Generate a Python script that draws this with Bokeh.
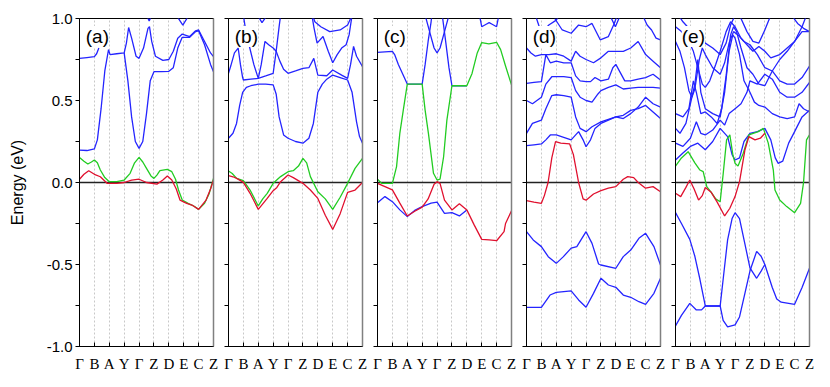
from bokeh.plotting import figure
from bokeh.layouts import row
from bokeh.models import Range1d, FixedTicker, LinearAxis, Span, Label
from bokeh.embed import file_html
from bokeh.resources import INLINE

# ---------------- data ----------------
K_POINTS = [0, 1, 2, 3, 4, 5, 6, 7, 8, 9]
K_LABELS = ["Γ", "B", "A", "Y", "Γ", "Z", "D", "E", "C", "Z"]
Y_MAJOR = [-1.0, -0.5, 0.0, 0.5, 1.0]
Y_MINOR = [-0.75, -0.25, 0.25, 0.75]
Y_LABELS = ["-1.0", "-0.5", "0.0", "0.5", "1.0"]
PANEL_NAMES = ["(a)", "(b)", "(c)", "(d)", "(e)"]

# panel (a)
A_BLUE = [
    [(0, .198), (.5, .195), (1, .205), (1.2, .26), (1.45, .45), (1.7, .68), (1.95, .81), (2.05, .78), (2.5, .785),
     (3, .79), (3.15, .85), (3.3, .945), (3.5, .88), (3.8, .77), (4, .757), (4.3, .82), (4.6, .94), (4.7, .95),
     (4.85, .86), (5.1, .77), (5.6, .745), (6, .75), (6.3, .80), (6.6, .88), (6.9, .905), (7.4, .89), (7.8, .925),
     (8, .93), (8.4, .86), (8.8, .79), (9, .767)],
    [(0, .757), (.5, .762), (1, .767), (1.15, .785), (1.3, .82)],
    [(3, .79), (3.25, .62), (3.5, .40), (3.75, .25), (4, .208), (4.25, .25), (4.5, .42), (4.75, .62), (5, .676),
     (5.5, .676), (6, .678), (6.3, .70), (6.6, .82), (6.9, .885), (7.4, .885), (7.8, .92), (8, .925), (8.4, .84),
     (8.8, .72), (9, .676)],
    [(4.5, 1.02), (4.68, .985), (4.85, 1.02)],
    [(6.5, 1.02), (6.94, .96), (7.35, 1.02)],
]
A_GREEN = [
    [(0, .153), (.3, .13), (.56, .113), (.8, .125), (1, .137), (1.2, .12), (1.4, .076), (1.7, .03), (2, .005),
     (2.5, .005), (3, .015), (3.4, .056), (3.7, .12), (4, .153), (4.25, .125), (4.5, .086), (4.8, .04), (5, .025),
     (5.2, .045), (5.4, .072), (5.9, .08), (6.2, .066), (6.45, .02), (6.65, -.046), (6.9, -.107), (7.3, -.127),
     (7.7, -.145), (8, -.164), (8.4, -.127), (8.7, -.07), (9, .025)],
]
A_RED = [
    [(0, .02), (.3, .05), (.62, .072), (1, .05), (1.4, .035), (1.85, -.005), (2.5, -.005), (3, 0), (3.5, .015),
     (4, .02), (4.5, 0), (5.2, -.01), (5.6, .015), (5.9, .04), (6.2, .015), (6.5, -.04), (6.75, -.107),
     (7.2, -.127), (7.6, -.14), (8, -.164), (8.5, -.107), (8.8, -.04), (9, .015)],
]

# panel (b)
B_BLUE = [
    [(0, .27), (.3, .30), (.54, .36), (.75, .47), (.95, .55), (1.2, .58), (1.5, .59), (2, .60), (2.5, .60),
     (3, .595), (3.2, .54), (3.4, .40), (3.7, .29), (4, .27), (4.5, .25), (5, .24), (5.4, .27), (5.7, .36),
     (6, .55), (6.3, .60), (6.6, .63), (7, .655), (7.5, .64), (8, .625), (8.3, .55), (8.6, .37), (8.8, .28),
     (9, .24)],
    [(0, .666), (.15, .71), (.4, .79), (.65, .82), (.8, .72), (.95, .64), (1, .625), (1.5, .63), (2, .635),
     (2.5, .65), (3, .666), (3.2, .80), (3.4, .95), (3.5, 1.02)],
    [(1.0, 1.02), (1.2, .90), (1.43, .82), (1.7, .72), (2, .635), (2.2, .72), (2.45, .86), (2.7, .84), (3, .82),
     (3.2, .80), (3.45, .74), (3.7, .69), (4, .666), (4.5, .68), (5, .696), (5.4, .70), (5.73, .757), (6, .655),
     (6.6, .651), (7, .686), (7.6, .655), (8, .635), (8.2, .72), (8.4, .83), (8.6, .77), (9, .706)],
    [(5.6, 1.02), (5.75, .94), (5.95, .85), (6.35, .89), (6.7, .80), (7, .73), (7.3, .78), (7.6, .82), (7.9, .84),
     (8.1, .90), (8.3, 1.02)],
    [(5.65, 1.02), (5.8, .98), (6.2, .95), (6.8, .92), (7.5, .93), (8, .96), (8.3, 1.02)],
    [(1.95, 1.02), (2.25, .975), (2.6, 1.02)],
]
B_GREEN = [
    [(0, .07), (.25, .055), (.55, .025), (1, .011), (1.45, -.046), (2, -.143), (2.3, -.10), (2.6, -.066),
     (3, -.005), (3.5, .036), (4, .066), (4.35, .072), (4.7, .10), (5, .147), (5.25, .12), (5.5, .036),
     (6, -.056), (6.5, -.10), (7, -.164), (7.5, -.09), (8, -.005), (8.5, .086), (9, .147)],
]
B_RED = [
    [(0, .042), (.3, .035), (.55, .025), (1, .001), (1.45, -.066), (2, -.164), (2.3, -.13), (2.6, -.097),
     (3, -.05), (3.25, -.03), (3.5, .005), (4, .046), (4.35, .03), (5, -.005), (5.5, -.046), (6, -.097),
     (6.5, -.2), (7, -.286), (7.5, -.19), (8, -.06), (8.5, -.046), (9, 0)],
]

# panel (c)
C_BLUE = [
    [(0, .794), (.5, .797), (1, .80), (1.15, .78), (1.4, .72), (1.7, .66), (2, .60), (2.5, .60), (3, .60),
     (3.2, .72), (3.4, .86), (3.6, .98), (3.65, 1.02)],
    [(3.2, 1.02), (3.5, .92), (3.8, .82), (4, .79), (4.2, .82), (4.5, .92), (4.8, 1.02)],
    [(4.35, 1.02), (4.55, .88), (4.8, .70), (5, .59), (5.5, .59), (6, .59)],
    [(6.85, 1.02), (7, .95), (7.3, .965), (7.5, .975), (7.7, .965), (8, .95), (8.15, 1.02)],
    [(0, -.123), (.5, -.086), (1, -.117), (1.5, -.167), (2, -.208), (2.5, -.17), (3, -.147), (3.6, -.126),
     (4, -.12), (4.5, -.188), (5, -.184), (5.5, -.204), (6, -.167)],
]
C_GREEN = [
    [(0, .02), (.27, -.005), (1, -.005), (1.28, .097), (1.5, .30), (1.73, .44), (2, .60), (3, .60), (3.2, .44),
     (3.42, .30), (3.76, .056), (4, .015), (4.2, .02), (4.44, .157), (4.66, .38), (5, .59), (6, .59),
     (6.35, .665), (6.7, .79), (7, .853), (7.48, .845), (8, .855), (8.27, .81), (8.6, .71), (9, .595)],
]
C_RED = [
    [(0, -.005), (.5, -.025), (1, -.045), (1.5, -.126), (2, -.204), (2.5, -.175), (3, -.15), (3.4, -.10),
     (3.8, -.01), (4, .005), (4.2, -.005), (4.5, -.107), (5, -.167), (5.5, -.13), (6, -.167), (6.5, -.26),
     (7, -.347), (7.5, -.35), (8, -.355), (8.5, -.30), (8.6, -.25), (9, -.172)],
]

# panel (d)
D_BLUE = [
    [(0, .225), (.5, .23), (1, .235), (1.3, .26), (1.6, .29), (2, .29), (2.5, .275), (3, .26), (3.5, .31),
     (3.8, .26), (4, .218), (4.3, .26), (4.6, .33), (5, .36), (5.5, .38), (6, .40), (6.5, .41), (7, .44),
     (7.5, .45), (8, .47), (8.5, .43), (9, .39)],
    [(0, .30), (.4, .36), (1, .38), (1.3, .45), (1.7, .53), (2, .535), (2.5, .53), (3, .52), (3.3, .40),
     (3.6, .33), (4, .31), (4.4, .34), (5, .37), (5.5, .385), (6, .40), (6.5, .39), (7, .42), (7.5, .46),
     (8, .52), (8.5, .48), (9, .46)],
    [(0, .50), (.4, .48), (1, .52), (1.3, .60), (1.7, .645), (2, .645), (2.5, .645), (3, .64), (3.3, .56),
     (3.6, .52), (4, .50), (4.4, .49), (4.8, .54), (5, .56), (5.5, .58), (6, .595), (6.5, .57), (7, .575),
     (7.5, .58), (8, .58), (8.5, .58), (9, .575)],
    [(0, .605), (.5, .61), (1, .615), (1.3, .78), (1.6, .73), (2, .74), (2.5, .73), (3, .73), (3.3, .65),
     (3.6, .62), (4, .615), (4.3, .615), (4.6, .64), (5, .62), (5.5, .63), (5.8, .70), (6, .72), (6.3, .67),
     (6.6, .62), (7, .62), (7.5, .63), (8, .64), (8.5, .66), (9, .625)],
    [(0, .82), (.3, .79), (.6, .77), (1, .78), (1.5, .78), (2, .785), (2.5, .77), (3, .74), (3.3, .80),
     (3.6, .77), (4, .75), (4.5, .73), (5, .76), (5.5, .80), (6, .80), (6.5, .80), (7, .82), (7.5, .86),
     (8, .78), (8.5, .74), (9, .70)],
    [(.6, 1.02), (1, .91), (1.5, .96), (2, .99), (2.2, 1.02)],
    [(1.9, 1.0), (2.4, .93), (3, .91), (3.5, .96), (4, .95), (4.4, .97), (4.95, .87), (5.5, .89), (5.85, .96),
     (6.1, 1.02)],
    [(5.6, 1.02), (5.97, .95), (6.3, 1.02)],
    [(7.8, 1.02), (8.1, .96), (8.4, .93), (8.7, .88), (9, .87)],
    [(0, -.30), (.45, -.35), (1, -.391), (1.46, -.452), (2, -.493), (2.48, -.452), (3, -.40), (3.38, -.391),
     (4, -.30), (4.4, -.371), (4.84, -.497), (5, -.503), (6, -.523), (6.5, -.452), (7, -.412), (7.55, -.34),
     (8, -.31), (8.56, -.391), (9, -.503)],
    [(0, -.761), (1, -.761), (1.58, -.686), (2, -.67), (3, -.661), (3.5, -.716), (4, -.761), (4.5, -.676),
     (5, -.584), (5.5, -.625), (6, -.639), (6.5, -.686), (7, -.70), (7.55, -.727), (8, -.743), (8.56, -.676),
     (9, -.584)],
]
D_GREEN = []
D_RED = [
    [(0, -.111), (.5, -.12), (1, -.127), (1.2, -.08), (1.45, 0), (1.7, .15), (1.95, .249), (2.3, .24),
     (2.9, .235), (3.15, .17), (3.5, 0), (3.8, -.10), (4, -.108), (4.5, -.07), (5, -.05), (5.5, -.035),
     (6, -.025), (6.5, .02), (6.8, .036), (7.2, .03), (7.5, 0), (8, -.035), (8.5, -.025), (9, -.056)],
]

# panel (e)
E_BLUE = [
    [(0, .137), (.5, .18), (1, .22), (1.5, .24), (2, .20), (2.5, .25), (3, .33), (3.5, .28), (3.8, .17),
     (4, .137), (4.3, .15), (4.6, .25), (5, .30), (5.5, .31), (6, .33), (6.4, .26), (6.7, .15), (6.9, .117),
     (7.2, .13), (7.6, .24), (8, .31), (8.5, .40), (9, .44)],
    [(0, .24), (.5, .22), (1, .27), (1.4, .37), (1.7, .30), (2, .29), (2.5, .32), (3, .38), (3.3, .35),
     (3.6, .42), (4, .45), (4.4, .48), (4.8, .55), (5, .62), (5.5, .60), (6, .66), (6.5, .63), (7, .55),
     (7.5, .52), (8, .52), (8.5, .55), (9, .61)],
    [(0, .33), (.3, .30), (.7, .36), (1, .48), (1.3, .60), (1.5, .75), (1.7, .55), (2, .45), (2.5, .42),
     (3, .40), (3.3, .55), (3.6, .80), (3.85, .90), (4, .88), (4.3, .78), (4.6, .62), (5, .55), (5.3, .49),
     (5.6, .47), (6, .46), (6.5, .42), (7, .40), (7.5, .39), (8, .40), (8.3, .48), (8.6, .45), (9, .43)],
    [(0, .42), (.5, .40), (.9, .45), (1.2, .62), (1.4, .55), (1.7, .42), (2, .43), (2.4, .40), (2.8, .36),
     (3.1, .45), (3.4, .65), (3.7, .90), (3.9, .95), (4.1, .92), (4.4, .82), (4.8, .70), (5.2, .66), (5.6, .60),
     (6, .59), (6.5, .68), (7, .75), (7.5, .80), (8, .86), (8.5, .92), (9, .92)],
    [(0, .86), (.3, .80), (.6, .70), (.9, .56), (1.1, .52), (1.3, .57), (1.6, .75), (1.8, .82), (2, .78),
     (2.5, .70), (3, .66), (3.3, .73), (3.6, .85), (3.9, .92), (4.2, .90), (4.6, .86), (5, .84), (5.5, .78),
     (6, .70), (6.5, .68), (7, .62), (7.5, .60), (8, .60), (8.5, .64), (9, .71)],
    [(0, .95), (.4, .92), (.8, .88), (1.2, .80), (1.5, .70), (1.8, .60), (2, .58), (2.3, .62), (2.7, .72),
     (3, .80), (3.4, .92), (3.7, .98), (4, .95), (4.4, .88), (4.8, .84), (5.2, .80), (5.6, .83), (6, .80),
     (6.4, .76), (7, .78), (7.5, .82), (8, .86), (8.5, .95), (8.8, 1.02)],
    [(.2, 1.02), (.5, .98), (1, .93), (1.5, .88), (2, .85), (2.5, .82), (3, .78), (3.4, .85), (3.7, .96),
     (4, 1.02)],
    [(4.3, 1.02), (4.8, .92), (5.2, .86), (5.6, .85), (6, .93), (6.4, 1.02)],
    [(7.8, 1.02), (8.2, .97), (8.6, .94), (9, .92)],
    [(0, -.184), (.4, -.25), (.96, -.347), (1.3, -.45), (1.64, -.59), (2, -.753), (3, -.753), (3.2, -.84),
     (3.5, -.88), (4, -.868), (4.3, -.82), (4.65, -.68), (5, -.54), (5.45, -.42), (5.75, -.45), (6, -.50),
     (6.5, -.64), (6.8, -.71), (7.1, -.73), (8, -.743), (8.5, -.64), (9, -.523)],
    [(0, -.875), (.4, -.81), (.96, -.737), (1.4, -.777), (1.75, -.777), (2, -.753), (3, -.753), (3.25, -.55),
     (3.5, -.35), (3.8, -.22), (4, -.184), (4.3, -.22), (4.65, -.37), (5, -.52), (5.45, -.584), (5.75, -.54),
     (6, -.50)],
]
E_GREEN = [
    [(0, .10), (.4, .15), (.85, .188), (1.3, .12), (1.64, .076), (1.86, .066), (2.1, -.025), (2.4, -.06),
     (2.7, -.10), (3, -.117), (3.2, .05), (3.43, .26), (3.65, .29), (3.85, .17), (4, .117), (4.2, .10),
     (4.55, .178), (4.93, .29), (5.56, .31), (5.9, .33), (6.23, .24), (6.57, .076), (6.68, -.046), (7, -.107),
     (7.47, -.147), (8, -.184), (8.4, -.127), (8.6, 0), (8.8, .26), (9, .29)],
]
E_RED = [
    [(0, -.066), (.35, -.086), (.7, -.03), (.96, .015), (1.25, -.04), (1.55, -.107), (1.8, -.08), (2, -.03),
     (2.4, -.06), (2.8, -.12), (3.3, -.204), (3.65, -.157), (4, -.086), (4.3, .005), (4.66, .198), (4.93, .28),
     (5.34, .26), (5.7, .27), (6, .30)],
]

PANELS = [
    (A_BLUE, A_GREEN, A_RED),
    (B_BLUE, B_GREEN, B_RED),
    (C_BLUE, C_GREEN, C_RED),
    (D_BLUE, D_GREEN, D_RED),
    (E_BLUE, E_GREEN, E_RED),
]

BLUE = "#2424ff"
GREEN = "#22cc22"
RED = "#e0102e"
SERIF = "Liberation Serif"


def draw(p, bands, color):
    for band in bands:
        ks = [pt[0] for pt in band]
        es = [pt[1] for pt in band]
        p.line(ks, es, line_color=color, line_width=1.3)


def make_fig(idx):
    first = idx == 0
    p = figure(frame_width=134, frame_height=328,
               x_range=Range1d(K_POINTS[0], K_POINTS[-1]), y_range=Range1d(Y_MAJOR[0], Y_MAJOR[-1]),
               output_backend="svg", toolbar_location=None,
               min_border_left=79 if first else 8, min_border_right=7,
               min_border_top=18, min_border_bottom=30)
    p.outline_line_color = "black"
    p.outline_line_width = 1
    p.background_fill_color = "white"
    p.border_fill_color = "white"

    # x axis
    xax = p.below[0]
    xax.ticker = FixedTicker(ticks=K_POINTS)
    xax.major_label_overrides = {k: lbl for k, lbl in zip(K_POINTS, K_LABELS)}
    xax.major_tick_in = 4
    xax.major_tick_out = 0
    xax.minor_tick_line_color = None
    xax.major_label_text_font = SERIF
    xax.major_label_text_font_size = "15px"
    xax.major_label_text_font_style = "normal"
    xax.major_label_text_color = "black"
    xax.major_label_standoff = 9
    xax.axis_line_color = "black"

    # y axis
    yax = p.left[0]
    yax.ticker = FixedTicker(ticks=Y_MAJOR, minor_ticks=Y_MINOR)
    yax.major_tick_in = 0
    yax.major_tick_out = 4
    yax.minor_tick_in = 0
    yax.minor_tick_out = 4
    yax.axis_line_color = "black"
    if first:
        yax.major_label_overrides = {v: s for v, s in zip(Y_MAJOR, Y_LABELS)}
        yax.major_label_text_font = "Liberation Sans"
        yax.major_label_text_font_size = "15px"
        yax.major_label_text_color = "black"
        yax.major_label_standoff = 3
        yax.axis_label = "Energy (eV)"
        yax.axis_label_text_font = "Liberation Sans"
        yax.axis_label_text_font_size = "16px"
        yax.axis_label_text_font_style = "normal"
        yax.axis_label_text_color = "black"
        yax.axis_label_standoff = 18
    else:
        yax.major_label_overrides = {v: "" for v in Y_MAJOR}
        yax.major_label_standoff = 0

    # right gray edge
    right = LinearAxis(ticker=FixedTicker(ticks=[]), axis_line_color="#808080", axis_line_width=1.5,
                       major_tick_line_color=None, minor_tick_line_color=None, major_label_standoff=0)
    p.add_layout(right, "right")

    # grid
    p.xgrid.ticker = FixedTicker(ticks=K_POINTS)
    p.xgrid.grid_line_color = "#c8c8c8"
    p.xgrid.grid_line_dash = "2 2"
    p.xgrid.grid_line_width = 1
    p.ygrid.visible = False

    p.add_layout(Span(location=0, dimension="width", line_color="#222222", line_width=1.3, level="underlay"))

    blue, green, red = PANELS[idx]
    draw(p, blue, BLUE)
    draw(p, green, GREEN)
    draw(p, red, RED)

    p.add_layout(Label(x=0.42, y=0.89, text=PANEL_NAMES[idx], text_font="Liberation Sans",
                       text_font_size="19px", text_color="black", text_baseline="alphabetic",
                       background_fill_color="white"))
    return p


figs = [make_fig(i) for i in range(5)]
layout = row(*figs, spacing=0)

open("out.html", "w").write(file_html(layout, INLINE))
